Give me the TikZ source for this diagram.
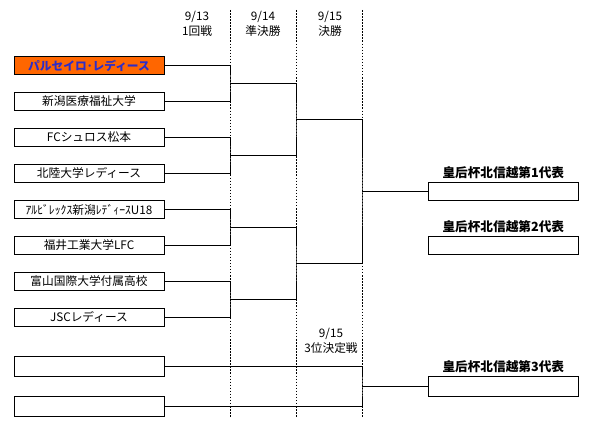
\documentclass[tikz,border=0pt]{standalone}
\usepackage{fontspec}
\setmainfont{Noto Sans CJK JP}
\definecolor{seedorange}{RGB}{255,102,0}
\definecolor{seedblue}{RGB}{45,45,200}
\tikzset{
  team/.style={draw, line width=0.8pt, minimum width=4.5cm, minimum height=0.54cm, inner sep=0pt, font=\fontsize{10}{12}\selectfont},
  blank/.style={team, minimum height=0.6cm},
  seat/.style={draw, line width=0.8pt, minimum width=4.5cm, minimum height=0.54cm, inner sep=0pt},
  bracket/.style={line width=0.8pt},
  column/.style={line width=0.8pt, dash pattern=on 1.3pt off 1.3pt},
  head/.style={font=\fontsize{10}{12.5}\selectfont, align=center, inner sep=0pt},
  title/.style={font=\fontsize{10.8}{12}\selectfont\bfseries, inner sep=0pt}
}
\begin{document}
\begin{tikzpicture}[x=0.03cm, y=-0.03cm]
        \useasboundingbox (0,0) rectangle (593,425);

        % ===== round columns =====
        \foreach \x in {230,296,362}
            \draw[column] (\x,10) -- (\x,417);
        \node[head] (h1) at (197,24) {9/13\\1回戦};
        \node[head] (h2) at (263,24) {9/14\\準決勝};
        \node[head] (h3) at (330,24) {9/15\\決勝};
        \node[head] (h4) at (331,341) {9/15\\3位決定戦};

        % ===== teams =====
        \node[team, fill=seedorange, text=seedblue, font=\fontsize{10}{12}\selectfont\bfseries] (t1) at (89,65.5) {パルセイロ･レディース};
        \node[team] (t2) at (89,101.2) {新潟医療福祉大学};
        \node[team] (t3) at (89,137.3) {FCシュロス松本};
        \node[team] (t4) at (89,173.3) {北陸大学レディース};
        \node[team] (t5) at (89,209.6) {ｱﾙﾋﾞﾚｯｸｽ新潟ﾚﾃﾞｨｰｽU18};
        \node[team] (t6) at (89,245.5) {福井工業大学LFC};
        \node[team] (t7) at (89,281.5) {富山国際大学付属高校};
        \node[team] (t8) at (89,317.3) {JSCレディース};
        \node[blank] (t9) at (89,366.3) {};
        \node[blank] (t10) at (89,406.3) {};

        % ===== representatives =====
        \node[seat] (w1) at (503.3,191.3) {};
        \node[seat] (w2) at (503.3,245.5) {};
        \node[seat, minimum height=0.6cm] (w3) at (503.3,386.3) {};
        \node[title, anchor=south] (r1) at (w1.north) [yshift=2.5pt] {皇后杯北信越第1代表};
        \node[title, anchor=south] (r2) at (w2.north) [yshift=2.5pt] {皇后杯北信越第2代表};
        \node[title, anchor=south] (r3) at (w3.north) [yshift=2.5pt] {皇后杯北信越第3代表};

        % ===== bracket =====
        \coordinate (q1) at (230,83.3);
        \coordinate (q2) at (230,155.3);
        \coordinate (q3) at (230,227.5);
        \coordinate (q4) at (230,299.4);
        \coordinate (s1) at (296,119.3);
        \coordinate (s2) at (296,263.4);
        \coordinate (f1) at (362,191.3);
        \coordinate (b1) at (362,386.3);

        \draw[bracket] (t1.east) -| (q1) |- (t2.east);
        \draw[bracket] (t3.east) -| (q2) |- (t4.east);
        \draw[bracket] (t5.east) -| (q3) |- (t6.east);
        \draw[bracket] (t7.east) -| (q4) |- (t8.east);
        \draw[bracket] (q1) -| (s1) |- (q2);
        \draw[bracket] (q3) -| (s2) |- (q4);
        \draw[bracket] (s1) -| (f1) |- (s2);
        \draw[bracket] (f1) -- (w1.west);
        \draw[bracket] (t9.east) -| (b1) |- (t10.east);
        \draw[bracket] (b1) -- (w3.west);
\end{tikzpicture}
\end{document}
